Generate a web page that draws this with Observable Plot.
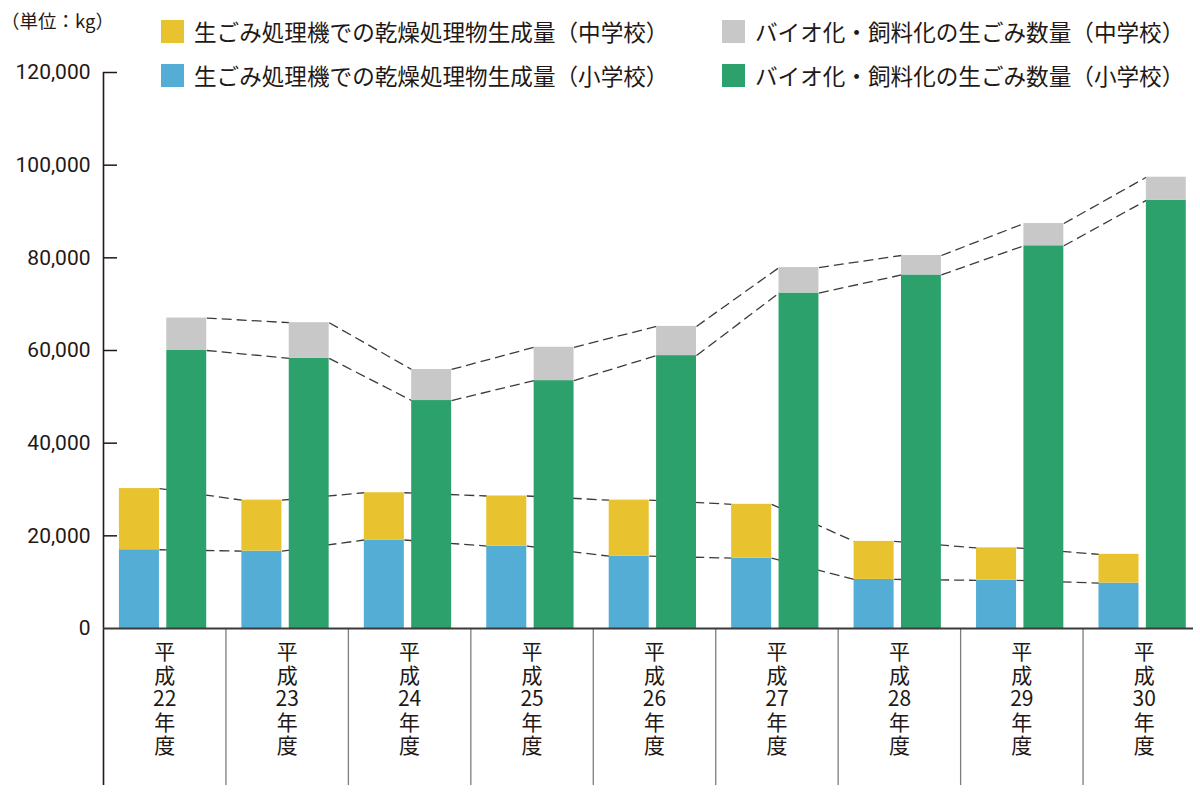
<!DOCTYPE html>
<html lang="ja">
<head>
<meta charset="utf-8">
<script src="https://cdn.jsdelivr.net/npm/d3@7"></script>
<script src="https://cdn.jsdelivr.net/npm/@observablehq/plot@0.6"></script>
<style>
html,body{margin:0;padding:0;background:#fff;}
#wrap{position:relative;width:1200px;height:793px;overflow:hidden;font-family:"Noto Sans CJK JP",sans-serif;color:#231815;}
#wrap svg{position:absolute;left:0;top:0;}
.unit{position:absolute;left:1px;top:10px;font-size:18.5px;line-height:20px;white-space:nowrap;}
.lg{position:absolute;display:flex;align-items:center;font-size:22.6px;line-height:23px;white-space:nowrap;}
.sw{width:23px;height:23px;margin-right:10px;flex:none;}
</style>
</head>
<body>
<div id="wrap"></div>
<script>
// ---- data ----
const years = ["平成22年度","平成23年度","平成24年度","平成25年度","平成26年度","平成27年度","平成28年度","平成29年度","平成30年度"];
const yearLabels = ["平\n成\n22\n年\n度","平\n成\n23\n年\n度","平\n成\n24\n年\n度","平\n成\n25\n年\n度","平\n成\n26\n年\n度","平\n成\n27\n年\n度","平\n成\n28\n年\n度","平\n成\n29\n年\n度","平\n成\n30\n年\n度"];
// 生ごみ処理機での乾燥処理物生成量
const dryElementary = [17000, 16700, 19100, 17800, 15600, 15200, 10600, 10400, 9800];
const dryMiddle     = [13200, 11000, 10200, 10800, 12100, 11600, 8200, 7000, 6200];
// バイオ化・飼料化の生ごみ数量
const bioElementary = [60000, 58300, 49200, 53500, 58900, 72400, 76300, 82600, 92400];
const bioMiddle     = [7000, 7700, 6700, 7200, 6300, 5500, 4200, 4800, 5000];
const seriesNames = [
  "生ごみ処理機での乾燥処理物生成量（中学校）",
  "バイオ化・飼料化の生ごみ数量（中学校）",
  "生ごみ処理機での乾燥処理物生成量（小学校）",
  "バイオ化・飼料化の生ごみ数量（小学校）"
];
const seriesColors = ["#e8c22f", "#c8c8c8", "#54add4", "#2da16b"];
const yTicks = [0, 20000, 40000, 60000, 80000, 100000, 120000];
const unitLabel = "（単位：kg）";

// ---- layout ----
const W = 1200, H = 793, mL = 103, mR = 7, mT = 72, mB = 165;
const n = years.length;
const idx = d3.range(n);
const pairs = d3.range(n - 1);
// bar placement inside each year band (fraction of band)
const dryL = 0.13, dryR = 0.457, bioL = 0.517, bioR = 0.843;
const dark = "#231815";
const dash = {stroke: "#3e3a39", strokeWidth: 1.3, strokeDasharray: "10,5"};
const dryTop = idx.map(i => dryElementary[i] + dryMiddle[i]);
const bioTop = idx.map(i => bioElementary[i] + bioMiddle[i]);

const link = (vals, left, right) => Plot.link(pairs, {
  x1: i => i + right,
  x2: i => i + 1 + left,
  y1: i => vals[i], y2: i => vals[i + 1], ...dash
});

const chart = Plot.plot({
  width: W, height: H,
  marginTop: mT, marginBottom: mB, marginLeft: mL, marginRight: mR,
  style: {fontFamily: '"Noto Sans CJK JP", sans-serif', color: dark, background: "transparent"},
  x: {domain: [0, n], range: [mL, 1205]},
  y: {domain: [0, 120000]},
  marks: [
    link(dryElementary, dryL, dryR), link(dryTop, dryL, dryR),
    link(bioElementary, bioL, bioR), link(bioTop, bioL, bioR),
    Plot.rect(idx, {x1: i => i + dryL, x2: i => i + dryR, y1: 0, y2: i => dryElementary[i], fill: seriesColors[2]}),
    Plot.rect(idx, {x1: i => i + dryL, x2: i => i + dryR, y1: i => dryElementary[i], y2: i => dryTop[i], fill: seriesColors[0]}),
    Plot.rect(idx, {x1: i => i + bioL, x2: i => i + bioR, y1: 0, y2: i => bioElementary[i], fill: seriesColors[3]}),
    Plot.rect(idx, {x1: i => i + bioL, x2: i => i + bioR, y1: i => bioElementary[i], y2: i => bioTop[i], fill: seriesColors[1]}),
    Plot.axisY(yTicks, {tickSize: 0, tickPadding: 13, tickFormat: d3.format(","), fontSize: 21, fontFamily: "Roboto", fill: dark, label: null}),
    Plot.tickY(yTicks.slice(1), {y: d => d, insetRight: (W - mL - mR) - 14, stroke: dark, strokeWidth: 1.5}),
    Plot.ruleX([0], {stroke: dark, strokeWidth: 1.6}),
    Plot.axisX([0], {tickSize: 157, tickFormat: () => "", stroke: dark, strokeWidth: 1.6, label: null}),
    Plot.axisX(d3.range(1, n), {tickSize: 157, tickFormat: () => "", stroke: "#7d7d7d", strokeWidth: 1.3, label: null}),
    Plot.axisX(idx.map(i => i + 0.5), {tickSize: 0, tickPadding: 14, tickFormat: d => yearLabels[Math.floor(d)], fontSize: 21, lineHeight: 1.12, fill: dark, label: null}),
    Plot.ruleY([0], {stroke: "#3e3a39", strokeWidth: 2})
  ]
});

const wrap = document.getElementById("wrap");
wrap.appendChild(chart);

const unit = document.createElement("div");
unit.className = "unit";
unit.textContent = unitLabel;
wrap.appendChild(unit);

const legendPos = [[161, 20], [722, 20], [161, 63.5], [722, 63.5]];
seriesNames.forEach((name, k) => {
  const item = document.createElement("div");
  item.className = "lg";
  item.style.left = legendPos[k][0] + "px";
  item.style.top = legendPos[k][1] + "px";
  const sw = document.createElement("span");
  sw.className = "sw";
  sw.style.background = seriesColors[k];
  const tx = document.createElement("span");
  tx.textContent = name;
  item.appendChild(sw);
  item.appendChild(tx);
  wrap.appendChild(item);
});
</script>
</body>
</html>
